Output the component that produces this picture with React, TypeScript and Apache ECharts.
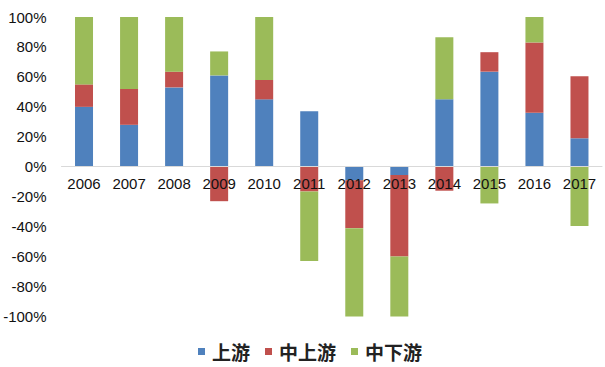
import React, { useEffect, useRef } from "react";
import * as echarts from "echarts";

const categories = ["2006", "2007", "2008", "2009", "2010", "2011", "2012", "2013", "2014", "2015", "2016", "2017"];
const upstream = [40, 28, 53, 61, 45, 37, -9, -5.5, 45, 63.5, 36, 19];
const midUpstream = [15, 24, 10.5, -23, 13, -16.5, -32, -54.5, -16, 13, 47, 41.5];
const midDownstream = [45, 48, 36.5, 16, 42, -46.5, -59, -40, 41.5, -24.5, 17, -39.5];
const seriesNames = ["上游", "中上游", "中下游"];
const colors = ["#4F81BD", "#C0504D", "#9BBB59"];

export default function App() {
  const ref = useRef<HTMLDivElement>(null);
  useEffect(() => {
    if (!ref.current) return;
    const chart = echarts.init(ref.current, null, { renderer: "svg" });
    const datasets = [upstream, midUpstream, midDownstream];
    chart.setOption({
      animation: false,
      grid: { left: 61.5, right: 3, top: 17, bottom: 50.5, containLabel: false },
      legend: {
        data: seriesNames,
        left: 198,
        top: 340.5,
        padding: 0,
        itemWidth: 7,
        itemHeight: 7,
        itemGap: 15,
        icon: "rect",
        textStyle: {
          fontFamily: "Noto Sans CJK SC",
          fontWeight: "bold",
          fontSize: 19,
          lineHeight: 22,
          color: "#222",
          padding: [0, 0, 0, 2],
        },
      },
      xAxis: {
        type: "category",
        data: categories,
        position: "bottom",
        offset: -150,
        z: 5,
        axisLine: { onZero: false, lineStyle: { color: "#d9d9d9", width: 1 } },
        axisTick: { show: false },
        axisLabel: {
          color: "#111",
          fontFamily: "Liberation Sans",
          fontSize: 15,
          margin: 9,
        },
      },
      yAxis: {
        type: "value",
        min: -100,
        max: 100,
        interval: 20,
        splitLine: { show: false },
        axisLine: { show: false },
        axisTick: { show: false },
        axisLabel: {
          formatter: "{value}%",
          color: "#111",
          fontFamily: "Liberation Sans",
          fontSize: 15,
          margin: 15,
        },
      },
      series: seriesNames.map((name, i) => ({
        name,
        type: "bar",
        stack: "total",
        barWidth: 18,
        data: datasets[i],
        itemStyle: { color: colors[i] },
      })),
    });
    return () => chart.dispose();
  }, []);
  return <div ref={ref} style={{ position: "absolute", left: 0, top: 0, width: 605, height: 367 }} />;
}
